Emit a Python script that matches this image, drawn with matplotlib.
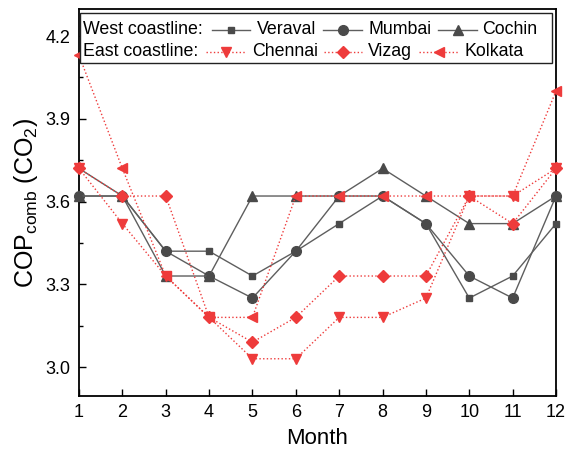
import matplotlib
matplotlib.use("Agg")
import matplotlib.pyplot as plt
from matplotlib.lines import Line2D
from matplotlib.patches import Rectangle
from matplotlib.ticker import MultipleLocator

plt.rcParams['font.family'] = ['Liberation Sans', 'DejaVu Sans']
plt.rcParams['mathtext.fontset'] = 'custom'
plt.rcParams['mathtext.rm'] = 'Liberation Sans'
plt.rcParams['mathtext.it'] = 'Liberation Sans:italic'

months = [1, 2, 3, 4, 5, 6, 7, 8, 9, 10, 11, 12]
veraval = [3.72, 3.62, 3.42, 3.42, 3.33, 3.42, 3.52, 3.62, 3.52, 3.25, 3.33, 3.52]
mumbai = [3.62, 3.62, 3.42, 3.33, 3.25, 3.42, 3.62, 3.62, 3.52, 3.33, 3.25, 3.62]
cochin = [3.62, 3.62, 3.33, 3.33, 3.62, 3.62, 3.62, 3.72, 3.62, 3.52, 3.52, 3.62]
chennai = [3.72, 3.52, 3.33, 3.18, 3.03, 3.03, 3.18, 3.18, 3.25, 3.62, 3.62, 3.72]
vizag = [3.72, 3.62, 3.62, 3.18, 3.09, 3.18, 3.33, 3.33, 3.33, 3.62, 3.52, 3.72]
kolkata = [4.13, 3.72, 3.33, 3.18, 3.18, 3.62, 3.62, 3.62, 3.62, 3.62, 3.62, 4.00]

W, H = 569, 461
fig = plt.figure(figsize=(W / 100, H / 100), dpi=100)
L, R, T, B = 79, 556, 9, 396
ax = fig.add_axes([L / W, 1 - B / H, (R - L) / W, (B - T) / H])

gray_line = '#5e5e5e'
gray_mk = '#4a4a4a'
red = '#ee3b3b'

west = [("Veraval", veraval, 's', 4.5), ("Mumbai", mumbai, 'o', 7.0), ("Cochin", cochin, '^', 7.4)]
east = [("Chennai", chennai, 'v', 7.4), ("Vizag", vizag, 'D', 6.2), ("Kolkata", kolkata, '<', 7.4)]

for name, vals, mk, ms in west:
    ax.plot(months, vals, color=gray_line, lw=1.0, marker=mk, ms=ms,
            mfc=gray_mk, mec=gray_mk, zorder=3, clip_on=False)
for name, vals, mk, ms in east:
    ax.plot(months, vals, color=red, lw=1.0, ls=':', marker=mk, ms=ms,
            mfc=red, mec=red, zorder=4, clip_on=False)

ax.set_xlim(1, 12)
ax.set_ylim(2.895, 4.298)
ax.set_xticks(months)
ax.yaxis.set_minor_locator(MultipleLocator(0.15))
ax.set_yticks([3.0, 3.3, 3.6, 3.9, 4.2])
ax.set_yticklabels(["3.0", "3.3", "3.6", "3.9", "4.2"])
ax.tick_params(axis='both', which='major', direction='in', length=5, width=1, labelsize=13, pad=6)
ax.tick_params(axis='both', which='minor', direction='in', length=3, width=1)
for s in ax.spines.values():
    s.set_linewidth(1.3)
    s.set_color('black')

ax.set_xlabel("Month", fontsize=16, labelpad=5)
ax.set_ylabel(r"COP$_{\mathrm{comb}}$ (CO$_2$)", fontsize=18, labelpad=4)

# legend drawn manually in figure pixel coordinates
def fx(x):
    return x / W

def fy(y):
    return 1 - y / H

box = Rectangle((fx(80), fy(63)), fx(552) - fx(80), fy(13) - fy(63),
                transform=fig.transFigure, facecolor='white', edgecolor='#222222',
                lw=1.0, zorder=10)
fig.add_artist(box)

lfs = 12.8
rows = [
    (30, "West coastline:", [(211.7, 250, 256.7), (323, 362, 368), (438, 477, 482)], west, gray_line, '-'),
    (52, "East coastline:", [(206, 245, 252), (324, 362, 368), (419, 458, 465)], east, red, ':'),
]
for y, title, slots, series, col, ls in rows:
    fig.text(fx(83), fy(y), title, fontsize=lfs, va='center', ha='left', zorder=11)
    for (x0, x1, xt), (name, vals, mk, ms) in zip(slots, series):
        mc = gray_mk if ls == '-' else red
        fig.add_artist(Line2D([fx(x0), fx(x1)], [fy(y), fy(y)], transform=fig.transFigure,
                              color=col, lw=1.0, ls=ls, zorder=11))
        fig.add_artist(Line2D([fx((x0 + x1) / 2)], [fy(y)], transform=fig.transFigure,
                              marker=mk, ms=ms, mfc=mc, mec=mc, ls='none', zorder=12))
        fig.text(fx(xt), fy(y), name, fontsize=lfs, va='center', ha='left', zorder=11)

fig.savefig("out.png", dpi=100)
